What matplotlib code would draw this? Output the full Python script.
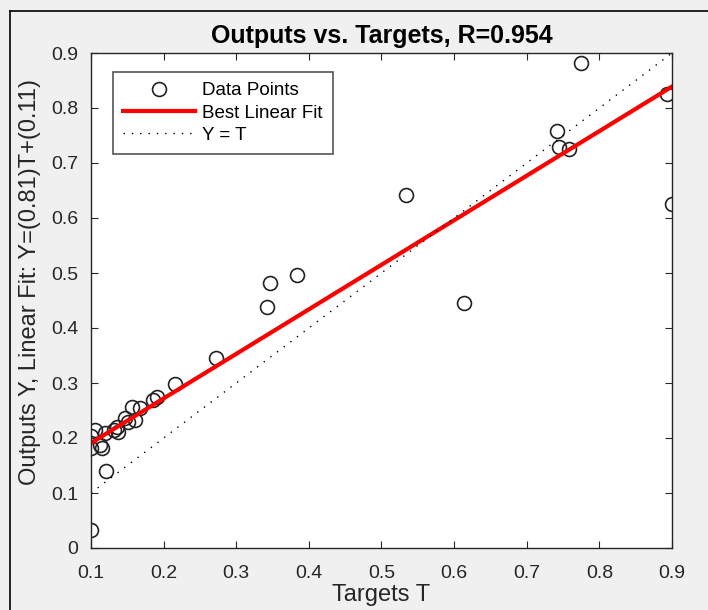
import numpy as np
import matplotlib.pyplot as plt
from matplotlib.lines import Line2D

plt.rcParams['font.family'] = ['Liberation Sans', 'DejaVu Sans']

# Data
targets = [0.100, 0.121, 0.100, 0.100, 0.106, 0.113, 0.115, 0.119, 0.131, 0.136,
           0.137, 0.147, 0.151, 0.156, 0.161, 0.168, 0.186, 0.191, 0.216, 0.272,
           0.342, 0.347, 0.383, 0.534, 0.613, 0.741, 0.745, 0.758, 0.775, 0.893,
           0.900]
outputs = [0.033, 0.140, 0.203, 0.181, 0.214, 0.187, 0.181, 0.209, 0.214, 0.220,
           0.211, 0.236, 0.229, 0.256, 0.232, 0.254, 0.269, 0.275, 0.298, 0.346,
           0.439, 0.481, 0.496, 0.641, 0.446, 0.759, 0.730, 0.726, 0.881, 0.826,
           0.626]
slope, intercept = 0.81, 0.11
r_value = 0.954

txt = '#262626'
fig = plt.figure(figsize=(7.08, 6.10), dpi=100, facecolor='#f0f0f0')
# border lines of the window (top and left)
fig.add_artist(Line2D([10/708, 10/708], [0, 1 - 11/610], color='k', lw=1.2))
fig.add_artist(Line2D([10/708, 1], [1 - 11/610, 1 - 11/610], color='k', lw=1.2))

ax = fig.add_axes([91/708, 62/610, 581/708, 495/610])
ax.set_facecolor('white')

xx = np.array([0.1, 0.9])
ax.plot(targets, outputs, 'o', ms=10, mfc='none', mec='#222222', mew=1.2,
        label='Data Points')
ax.plot(xx, slope*xx + intercept, color='#ff0000', lw=3, label='Best Linear Fit')
ax.plot(xx, xx, color='k', lw=1, ls=(0, (1, 5)), label='Y = T')

ax.set_xlim(0.1, 0.9)
ax.set_ylim(0, 0.9)
ax.set_xticks(np.arange(0.1, 0.91, 0.1))
ax.set_yticks(np.arange(0, 0.91, 0.1))
ax.set_xticklabels(['0.1', '0.2', '0.3', '0.4', '0.5', '0.6', '0.7', '0.8', '0.9'])
ax.set_yticklabels(['0', '0.1', '0.2', '0.3', '0.4', '0.5', '0.6', '0.7', '0.8', '0.9'])
ax.tick_params(direction='in', top=True, right=True, length=5, width=0.8,
               labelsize=14, colors=txt)
ax.tick_params(axis='x', pad=12)
ax.tick_params(axis='y', pad=9)
for s in ax.spines.values():
    s.set_color(txt)
    s.set_linewidth(1.0)

ax.set_title('Outputs vs. Targets, R=%.3f' % r_value, fontsize=18, fontweight='bold',
             color='k', pad=7)
ax.set_xlabel('Targets T', fontsize=17, color=txt, labelpad=2)
ax.set_ylabel('Outputs Y, Linear Fit: Y=(%.2g)T+(%.2g)' % (slope, intercept),
              fontsize=17, color=txt)
ax.yaxis.set_label_coords(-0.086, 0.537)

leg = ax.legend(loc='upper left', bbox_to_anchor=(0.038, 0.962), borderaxespad=0,
                fontsize=13.5, frameon=True, fancybox=False, edgecolor='#555555',
                framealpha=1, handlelength=3.8, handletextpad=0.4, borderpad=0.55,
                labelspacing=0.28)
leg.get_frame().set_linewidth(1.2)
for t in leg.get_texts():
    t.set_color('k')

fig.savefig('out.png', dpi=100, facecolor=fig.get_facecolor())
